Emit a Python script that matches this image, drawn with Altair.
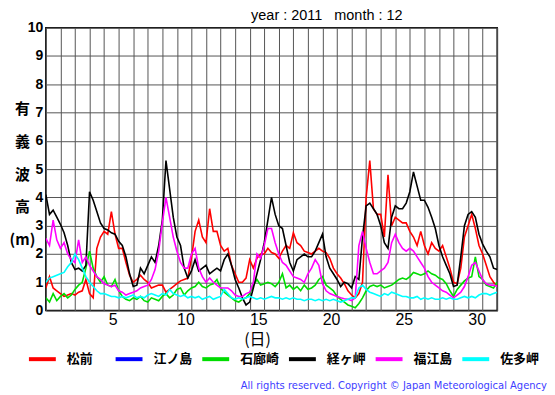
import altair as alt
import pandas as pd

# ---------------- data ----------------
STATIONS = ["松前", "江ノ島", "石廊崎", "経ヶ岬", "福江島", "佐多岬"]
COLORS = ["#ff0000", "#0000ff", "#00dd00", "#000000", "#ff00ff", "#00ffff"]
DAY_GRID = list(range(32))
Y_TICKS = list(range(11))
STEP = 0.25  # days between readings (6-hourly)

# significant wave height (m), 4 readings per day, day 0 .. day 31
matsumae = [
    0.8, 1.2, 0.8, 0.7, 0.6, 0.5, 0.55, 0.6, 0.55, 0.65, 0.7, 1.1,
    0.6, 0.45, 2.2, 2.6, 2.8, 2.7, 3.5, 2.7, 2.2, 2.2, 1.7, 1.25,
    1.0, 1.1, 1.25, 1.1, 1.0, 0.8, 0.85, 0.9, 0.9, 0.65, 0.75, 0.85,
    0.95, 1.05, 1.1, 1.15, 1.85, 2.8, 3.2, 2.6, 2.4, 3.6, 2.8, 2.8,
    2.3, 2.1, 2.2, 1.6, 1.3, 1.0, 1.0, 1.15, 1.8, 1.5, 1.85, 2.0,
    2.0, 2.2, 2.05, 2.0, 1.85, 2.1, 2.3, 2.2, 2.75, 2.4, 2.3, 2.1,
    2.05, 2.0, 2.1, 2.2, 2.1, 2.05, 1.85, 1.5, 1.3, 1.15, 0.95, 0.7,
    0.55, 0.45, 0.6, 1.0, 4.0, 5.3, 3.6, 3.4, 3.4, 2.6, 4.8, 3.0,
    3.3, 3.2, 3.1, 3.1, 2.8, 2.6, 2.3, 2.8, 2.3, 2.0, 2.4, 2.2,
    2.1, 2.3, 1.9, 1.5, 1.0, 0.95, 1.5, 2.6, 3.0, 3.4, 2.9, 2.3,
    2.0, 1.6, 1.2, 1.0, 0.85,
]
irozaki = [
    0.45, 0.3, 0.6, 0.35, 0.5, 0.6, 0.45, 0.55, 0.75, 0.9, 1.0, 1.5,
    2.1, 1.5, 1.2, 1.0, 1.2, 0.9, 0.85, 1.1, 0.7, 0.5, 0.4, 0.35,
    0.45, 0.4, 0.5, 0.35, 0.3, 0.45, 0.4, 0.35, 0.5, 0.6, 0.45, 0.55,
    0.75, 0.8, 0.55, 0.7, 0.8, 0.85, 1.0, 0.85, 0.8, 0.9, 0.95, 1.1,
    0.8, 0.65, 0.55, 0.45, 0.35, 0.3, 0.4, 0.45, 0.6, 0.9, 1.1, 0.9,
    0.95, 1.0, 0.95, 0.85, 1.0, 1.3, 0.8, 0.9, 0.75, 0.85, 0.7, 0.9,
    0.75, 0.8, 0.9, 1.1, 1.2, 0.9, 0.8, 0.7, 0.5, 0.4, 0.3, 0.2,
    0.15, 0.1, 0.25, 0.45, 0.7, 0.85, 0.9, 0.85, 0.9, 0.8, 0.85, 0.9,
    1.0, 1.1, 1.15, 1.1, 1.2, 1.35, 1.3, 1.25, 1.3, 1.4, 1.3, 1.25,
    1.15, 1.1, 0.95, 0.7, 0.5, 0.75, 0.9, 1.05, 1.15, 1.2, 1.9, 1.2,
    1.1, 0.9, 0.85, 0.8, 1.0,
]
kyogamisaki = [
    4.1, 3.4, 3.55, 3.3, 3.05, 2.75, 2.3, 1.7, 1.45, 1.5, 1.4, 1.6,
    4.2, 3.9, 3.5, 3.1, 2.9, 2.85, 2.75, 2.7, 2.45, 2.3, 1.9, 1.3,
    0.85, 0.9, 1.5, 1.3, 1.6, 1.9, 1.7, 2.3, 3.2, 5.3, 4.3, 3.3,
    2.6, 2.3, 1.5, 1.15, 1.4, 1.8, 1.4, 1.5, 1.6, 1.3, 1.4, 1.5,
    1.4, 1.8, 2.0, 1.6, 1.1, 0.8, 0.45, 0.2, 0.3, 0.8, 1.3, 1.8,
    2.4, 3.2, 4.0, 3.4, 3.0, 2.9, 2.3, 1.7, 1.4, 1.8, 1.9, 2.0,
    1.9, 1.9, 2.1, 2.4, 2.7, 1.9, 1.5, 1.3, 1.1, 0.85, 1.0, 0.95,
    0.8, 1.2, 1.1, 2.6, 3.7, 3.8, 3.6, 3.4, 3.0, 2.4, 2.2, 3.3,
    3.7, 3.6, 3.6, 3.8, 4.2, 4.9, 4.4, 3.9, 3.9, 3.65, 3.3, 2.9,
    2.3, 1.9, 1.6, 1.3, 0.85, 0.9, 1.9, 3.0, 3.4, 3.5, 3.3, 2.7,
    2.35, 2.1, 1.9, 1.5, 1.45,
]
fukue = [
    2.55, 2.3, 3.2, 2.5, 2.2, 2.4, 2.0, 1.8, 1.7, 2.5, 1.7, 1.9,
    1.6, 1.4, 1.2, 1.1, 0.95, 0.9, 0.85, 0.9, 0.7, 0.65, 0.55, 0.6,
    0.65, 0.7, 0.8, 0.85, 0.9, 1.1, 1.45, 2.1, 3.1, 4.0, 3.3, 2.6,
    2.1, 1.7, 1.5, 1.5, 2.0, 2.2, 1.5, 1.2, 1.0, 1.15, 1.0, 0.9,
    0.8, 0.8, 0.8, 0.7, 0.55, 0.5, 0.5, 0.6, 0.65, 1.0, 2.0, 1.85,
    2.3, 2.9, 2.9, 2.4, 2.0, 1.7, 1.6, 1.4, 1.2, 1.15, 1.1, 1.0,
    1.3, 1.5, 1.8, 1.6, 0.95, 0.7, 0.6, 0.55, 0.5, 0.45, 0.42, 0.4,
    0.35, 0.45, 2.3, 2.8, 2.2, 1.7, 1.3, 1.3, 1.4, 1.5, 1.7, 2.4,
    2.7, 2.4, 2.2, 2.1, 2.2, 2.1, 1.9, 1.7, 1.5, 1.2, 1.0, 0.9,
    0.8, 0.7, 0.65, 0.55, 0.45, 0.55, 0.65, 0.85, 1.2, 1.6, 1.7, 1.4,
    1.1, 0.95, 0.9, 0.9, 0.85,
]
sata = [
    1.0, 1.15, 1.2, 1.25, 1.3, 1.35, 1.55, 1.7, 2.0, 1.8, 1.5, 1.2,
    1.0, 0.85, 0.7, 0.6, 0.6, 0.55, 0.5, 0.5, 0.45, 0.5, 0.45, 0.5,
    0.55, 0.45, 0.5, 0.45, 0.55, 0.6, 0.55, 0.5, 0.6, 0.55, 0.75, 0.6,
    0.55, 0.5, 0.55, 0.45, 0.5, 0.45, 0.5, 0.4, 0.45, 0.5, 0.4, 0.45,
    0.5, 0.75, 0.6, 0.45, 0.4, 0.45, 0.4, 0.45, 0.5, 0.45, 0.4, 0.45,
    0.4, 0.45, 0.5, 0.45, 0.45, 0.4, 0.45, 0.4, 0.45, 0.4, 0.4, 0.35,
    0.4, 0.4, 0.35, 0.4, 0.35, 0.4, 0.35, 0.4, 0.35, 0.3, 0.35, 0.4,
    0.45, 0.45, 0.8, 0.9, 0.75, 0.65, 0.6, 0.55, 0.5, 0.6, 0.55, 0.65,
    0.6, 0.55, 0.5, 0.5, 0.45, 0.45, 0.5, 0.4, 0.45, 0.4, 0.45, 0.4,
    0.4, 0.45, 0.4, 0.45, 0.4, 0.4, 0.45, 0.5, 0.45, 0.5, 0.45, 0.55,
    0.6, 0.6, 0.55, 0.6, 0.65,
]

TITLE = "year : 2011\u00a0\u00a0\u00a0month : 12"
FOOTER = "All rights reserved. Copyright \u00a9 Japan Meteorological Agency"

series = {
    "松前": matsumae,
    "石廊崎": irozaki,
    "経ヶ岬": kyogamisaki,
    "福江島": fukue,
    "佐多岬": sata,
}

rows = []
for name in STATIONS:
    vals = series.get(name)
    if vals is None:
        continue
    for i, v in enumerate(vals):
        rows.append({"t": i * STEP, "h": v, "station": name})
df = pd.DataFrame(rows)

JP = "Noto Sans CJK JP"

lines = alt.Chart(df).mark_line(strokeWidth=1.6, clip=True).encode(
    x=alt.X(
        "t:Q",
        scale=alt.Scale(domain=[0, 31], nice=False, zero=False),
        axis=alt.Axis(
            values=DAY_GRID,
            grid=True,
            ticks=False,
            domain=False,
            labelExpr="datum.value % 5 == 0 && datum.value > 0 ? datum.value : ''",
            labelOffset=-6,
            labelFlush=False,
            labelOverlap=False,
            labelFont="Liberation Sans",
            labelFontSize=16,
            labelColor="black",
            labelPadding=1,
            title="(日)",
            titleFont=JP,
            titleFontSize=16,
            titleFontWeight="normal",
            titleColor="black",
            titleX=212,
            titleY=29,
            titleBaseline="middle",
            titleAlign="center",
        ),
    ),
    y=alt.Y(
        "h:Q",
        scale=alt.Scale(domain=[0, 10], nice=False),
        axis=alt.Axis(
            values=Y_TICKS,
            grid=True,
            ticks=False,
            domain=False,
            labelFont="Liberation Sans",
            labelFontWeight="bold",
            labelFontSize=14,
            labelColor="black",
            labelPadding=3,
            title=["有", "義", "波", "高", "(m)"],
            titleAngle=0,
            titleFont=JP,
            titleFontSize=15,
            titleFontWeight="bold",
            titleColor="black",
            titleAlign="center",
            titleBaseline="middle",
            titleLineHeight=33,
            titleX=-24,
            titleY=81,
        ),
    ),
    color=alt.Color(
        "station:N",
        scale=alt.Scale(domain=STATIONS, range=COLORS),
        legend=alt.Legend(
            orient="none",
            legendX=-19,
            legendY=317,
            direction="horizontal",
            columns=6,
            title=None,
            symbolType="stroke",
            symbolSize=729,
            symbolStrokeWidth=4,
            labelFont=JP,
            labelFontSize=13,
            labelFontWeight="bold",
            labelColor="black",
            labelOffset=9,
            gridAlign="all",
            columnPadding=1,
            padding=0,
        ),
    ),
)

footer = alt.Chart(pd.DataFrame({"txt": [FOOTER]})).mark_text(
    align="right",
    baseline="middle",
    color="#3d3dff",
    font="DejaVu Sans",
    fontSize=10,
).encode(
    x=alt.value(503),
    y=alt.value(360),
    text="txt:N",
)

chart = alt.layer(lines, footer).properties(
    width=453,
    height=284,
    autosize=alt.AutoSizeParams(type="none"),
    padding={"left": 38, "top": 19, "right": 50, "bottom": 80},
    title=alt.TitleParams(
        text=TITLE,
        anchor="start",
        frame="group",
        dx=206,
        dy=9,
        font="Liberation Sans",
        fontSize=14.5,
        fontWeight="normal",
        color="black",
        offset=6,
    ),
).configure_view(
    stroke="black", strokeWidth=1.5
).configure_axis(
    gridColor="#555555", gridWidth=1, gridOpacity=1
)

chart.save("out.html", embed_options={"renderer": "svg", "actions": False})
